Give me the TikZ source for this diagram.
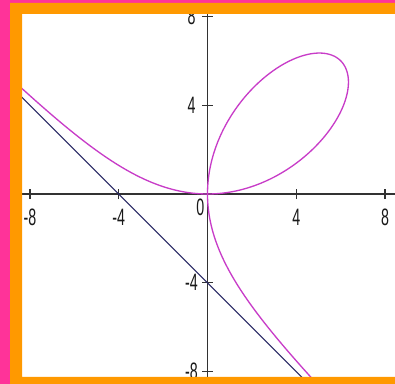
\documentclass[tikz,border=0pt]{standalone}
\usepackage{fontspec}
\setmainfont{Liberation Sans}
\definecolor{bgpink}{RGB}{255,51,153}
\definecolor{frameorange}{RGB}{255,153,0}
\definecolor{curvemag}{RGB}{200,60,200}
\definecolor{asymnavy}{RGB}{40,40,100}
\definecolor{axisgray}{RGB}{50,50,50}
\tikzset{declare function={frad(\t)=12*sin(\t)*cos(\t)/(sin(\t)*sin(\t)*sin(\t)+cos(\t)*cos(\t)*cos(\t));}}

\begin{document}
\begin{tikzpicture}[x=0.02cm,y=0.02cm,
  ticklab/.style={font=\fontsize{13.5}{13.5}\selectfont,xscale=0.6,inner sep=0pt,text=black!90}]
  \useasboundingbox(0,0)rectangle(395,384);
  \fill[bgpink](0,0)rectangle(395,384);
  \fill[white](22,7)rectangle(395,370);
  \begin{scope}
    \clip(22,7)rectangle(395,370);
    \begin{scope}[shift={(207.5,190)},x=0.444cm,y=0.444cm]
      % axes
      \draw[axisgray,line width=0.9pt](-9.5,0)--(9.5,0);
      \draw[axisgray,line width=0.9pt](0,-9.5)--(0,9.5);
      \foreach \v [count=\i] in {-8,-4,4,8}{%
        \draw[axisgray,line width=0.8pt](\v,-0.23)--(\v,0.23);
        \draw[axisgray,line width=0.8pt](-0.23,\v)--(0.23,\v);
        \node[ticklab](xlab\i)at(\v,-1.06){\v};
        \node[ticklab](ylab\i)at(-0.72,-\v){\the\numexpr-\v\relax};
      }
      \node[ticklab](olab)at(-0.32,-0.59){0};
      % asymptote x+y+4=0
      \draw[asymnavy,line width=0.6pt](-10,6)--(6,-10);
      % folium
      \draw[curvemag,line width=0.75pt]plot[domain=0:90,samples=160,variable=\t]
        ({frad(\t)*cos(\t)},{frad(\t)*sin(\t)});
      \draw[curvemag,line width=0.75pt]plot[domain=147:180,samples=90,variable=\t]
        ({frad(\t)*cos(\t)},{frad(\t)*sin(\t)});
      \draw[curvemag,line width=0.75pt]plot[domain=-90:-57,samples=90,variable=\t]
        ({frad(\t)*cos(\t)},{frad(\t)*sin(\t)});
    \end{scope}
  \end{scope}
  \fill[frameorange,even odd rule](10,0)rectangle(395,381)(22,7)rectangle(395,370);
\end{tikzpicture}
\end{document}
